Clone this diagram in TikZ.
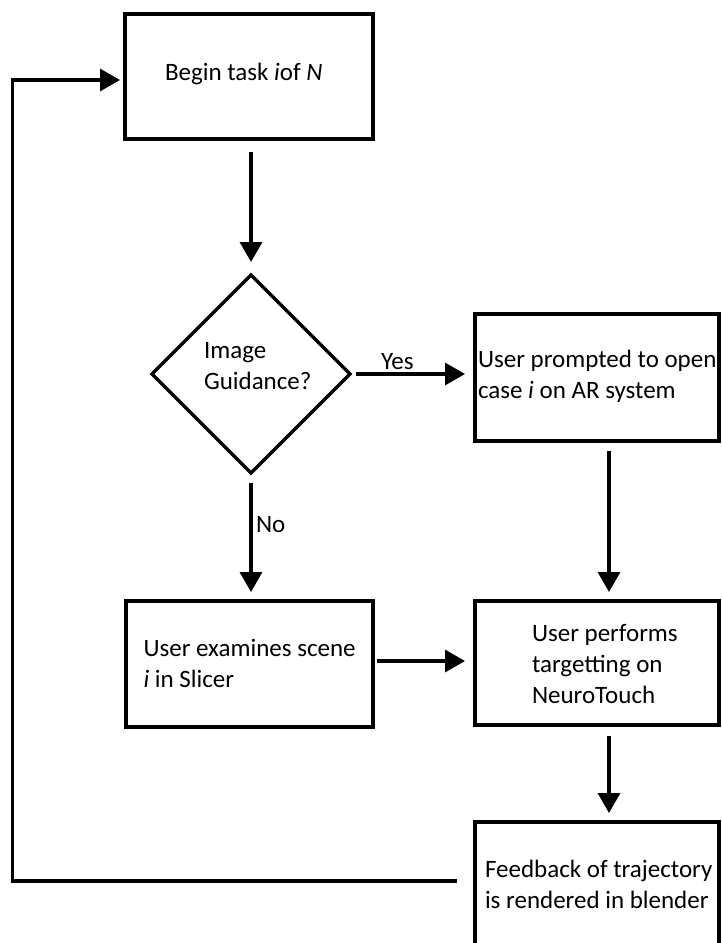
\documentclass[tikz,border=0pt]{standalone}
\usepackage{fontspec}
\setmainfont{Carlito}
\usetikzlibrary{arrows.meta,shapes.geometric}

\tikzset{
  box/.style={draw, line width=3.4pt, rectangle, inner sep=0pt, outer sep=0pt},
  decision/.style={draw, line width=3.4pt, diamond, aspect=1, inner sep=0pt, outer sep=0pt,
                   minimum width=198pt, minimum height=198pt},
  % multi-line texts are placed by the baseline of their last line
  txt/.style={inner sep=0pt, outer sep=0pt, anchor=base west, align=left,
              font=\fontsize{25}{31}\selectfont},
  arr/.style={line width=3.4pt, -{Triangle[width=22pt,length=20pt]}}
}

\begin{document}
\begin{tikzpicture}[x=1pt, y=-1pt]
  \useasboundingbox[fill=white] (0,0) rectangle (721,943);

  % boxes and decision
  \node[box, minimum width=248pt, minimum height=125pt] (b1) at (249,76.5) {};
  \node[decision] (dec) at (251,374) {};
  \node[box, minimum width=244pt, minimum height=127pt] (b2) at (597,377.5) {};
  \node[box, minimum width=247pt, minimum height=126pt] (b3) at (249.5,664) {};
  \node[box, minimum width=244pt, minimum height=124pt] (b4) at (597,663) {};
  \node[box, minimum width=244pt, minimum height=136pt] (b5) at (597,890) {};

  % texts
  \node[txt] (t1) at (165,80) {Begin task \textit{i}of \textit{N}};
  \node[txt] (td) at (204,389) {Image\\Guidance?};
  \node[txt] (t2) at (478,398) {User prompted to open\\case \textit{i} on AR system};
  \node[txt] (t3) at (143.5,687) {User examines scene\\\textit{i} in Slicer};
  \node[txt] (t4) at (532,703) {User performs\\targetting on\\NeuroTouch};
  \node[txt] (t5) at (485,908) {Feedback of trajectory\\is rendered in blender};

  % connectors
  \draw[arr, shorten <=13pt, shorten >=13pt] (b1.south -| dec.north) -- (dec.north);
  \draw[arr, shorten <=6pt, shorten >=10pt] (dec.east) -- (dec.east -| b2.west);
  \node[txt] (yeslbl) at (381,369) {Yes};
  \draw[arr, shorten <=10pt, shorten >=9pt] ([xshift=12pt]b2.south) -- ([xshift=12pt]b2.south |- b4.north);
  \draw[arr, shorten <=10pt, shorten >=9pt] (dec.south) -- (dec.south |- b3.north);
  \node[txt] (nolbl) at (256,532) {No};
  \draw[arr, shorten <=4pt, shorten >=10pt] ([yshift=3pt]b3.east) -- ([yshift=3pt]b3.east -| b4.west);
  \draw[arr, shorten <=11pt, shorten >=9pt] ([xshift=12pt]b4.south) -- ([xshift=12pt]b4.south |- b5.north);

  % return loop back to the first task
  \coordinate (lx) at (12.5,80);
  \draw[arr, shorten >=5pt] ([xshift=-18pt,yshift=9pt]b5.west) -| (lx) -- ([yshift=-3.5pt]b1.west);
\end{tikzpicture}
\end{document}
